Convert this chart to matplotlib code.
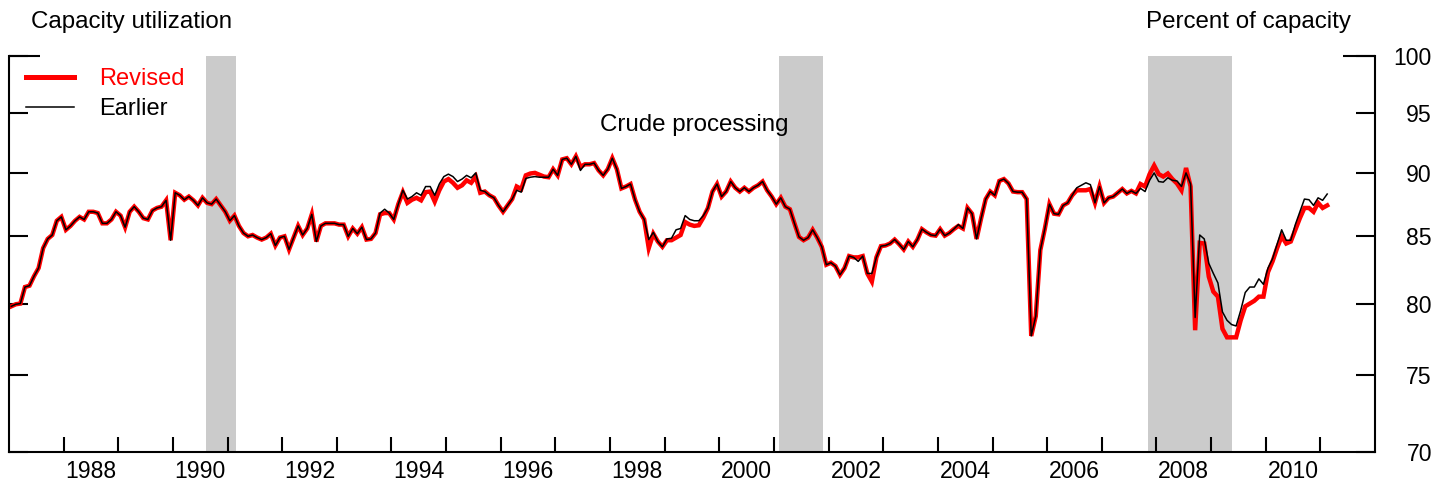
import matplotlib
matplotlib.use("Agg")
import matplotlib.pyplot as plt
import numpy as np

plt.rcParams['font.family'] = ['Liberation Sans', 'DejaVu Sans']

# ---------------- data (monthly, Jan 1987 - Feb 2011) ----------------
start_year = 1987
revised = [
    79.8, 79.95, 80.0, 81.2, 81.3, 82.0, 82.6, 84.1, 84.8, 85.1, 86.2, 86.5,        # 1987
    85.5, 85.8, 86.2, 86.5, 86.3, 86.9, 86.9, 86.8, 86.0, 86.0, 86.3, 86.9,         # 1988
    86.6, 85.7, 86.9, 87.3, 86.9, 86.4, 86.3, 87.0, 87.2, 87.3, 87.8, 84.7,         # 1989
    88.4, 88.2, 87.85, 88.1, 87.8, 87.4, 88.0, 87.6, 87.5, 87.9, 87.4, 86.9,        # 1990
    86.2, 86.6, 85.8, 85.25, 85.0, 85.1, 84.9, 84.75, 84.9, 85.2, 84.3, 84.9,       # 1991
    85.0, 84.0, 84.9, 85.8, 85.1, 85.6, 86.7, 84.6, 85.8, 86.0, 86.0, 86.0,         # 1992
    85.9, 85.9, 85.0, 85.6, 85.2, 85.7, 84.75, 84.8, 85.25, 86.7, 86.8, 86.8,       # 1993
    86.3, 87.5, 88.45, 87.6, 87.85, 88.0, 87.8, 88.45, 88.5, 87.7, 88.6, 89.3,      # 1994
    89.5, 89.2, 88.8, 89.0, 89.4, 89.2, 89.7, 88.4, 88.5, 88.2, 88.0, 87.4,         # 1995
    86.9, 87.4, 87.9, 88.9, 88.7, 89.8, 89.95, 90.0, 89.85, 89.7, 89.65, 90.3,      # 1996
    89.8, 91.1, 91.2, 90.7, 91.35, 90.5, 90.7, 90.7, 90.8, 90.2, 89.8, 90.3,        # 1997
    91.2, 90.3, 88.75, 88.9, 89.1, 87.85, 86.9, 86.3, 84.1, 85.2, 84.6, 84.2,       # 1998
    84.7, 84.7, 84.9, 85.1, 86.1, 85.9, 85.8, 85.85, 86.45, 87.2, 88.5, 89.1,       # 1999
    88.1, 88.5, 89.3, 88.8, 88.5, 88.8, 88.5, 88.8, 89.0, 89.3, 88.6, 88.1,         # 2000
    87.5, 88.0, 87.3, 87.1, 86.0, 84.95, 84.7, 84.9, 85.5, 84.9, 84.2, 82.85,       # 2001
    83.0, 82.75, 82.1, 82.6, 83.5, 83.4, 83.4, 83.5, 82.2, 81.6, 83.4, 84.25,       # 2002
    84.3, 84.45, 84.75, 84.4, 84.0, 84.6, 84.2, 84.75, 85.55, 85.3, 85.1, 85.05,    # 2003
    85.55, 85.05, 85.25, 85.55, 85.8, 85.6, 87.2, 86.75, 84.8, 86.4, 87.9, 88.5,    # 2004
    88.2, 89.35, 89.5, 89.15, 88.5, 88.45, 88.45, 87.9, 77.7, 79.1, 83.95, 85.6,    # 2005
    87.5, 86.75, 86.7, 87.4, 87.6, 88.2, 88.6, 88.6, 88.6, 88.7, 87.6, 88.9,        # 2006
    87.6, 88.0, 88.1, 88.4, 88.7, 88.35, 88.55, 88.35, 89.1, 88.9, 89.9, 90.6,      # 2007
    89.9, 89.7, 89.95, 89.5, 89.15, 88.6, 90.4, 88.9, 78.1, 84.5, 84.45, 81.96,     # 2008
    80.86, 80.5, 78.2, 77.6, 77.6, 77.6, 78.8, 79.8, 80.0, 80.2, 80.5, 80.5,        # 2009
    82.3, 83.1, 84.1, 85.0, 84.45, 84.6, 85.5, 86.4, 87.2, 87.2, 86.9, 87.6,        # 2010
    87.2, 87.4,                                                                     # 2011
]
earlier = [
    79.8, 79.95, 80.0, 81.2, 81.3, 82.0, 82.6, 84.1, 84.8, 85.1, 86.2, 86.5,        # 1987
    85.5, 85.8, 86.2, 86.5, 86.3, 86.9, 86.9, 86.8, 86.0, 86.0, 86.3, 86.9,         # 1988
    86.6, 85.7, 86.9, 87.3, 86.9, 86.4, 86.3, 87.0, 87.2, 87.3, 87.8, 84.7,         # 1989
    88.4, 88.2, 87.85, 88.1, 87.8, 87.4, 88.0, 87.6, 87.5, 87.9, 87.4, 86.9,        # 1990
    86.2, 86.6, 85.8, 85.25, 85.0, 85.1, 84.9, 84.75, 84.9, 85.2, 84.3, 84.9,       # 1991
    85.0, 84.0, 84.9, 85.8, 85.1, 85.6, 86.7, 84.6, 85.8, 86.0, 86.0, 86.0,         # 1992
    85.9, 85.9, 85.0, 85.6, 85.2, 85.7, 84.75, 84.8, 85.25, 86.8, 87.1, 86.8,       # 1993
    86.3, 87.5, 88.6, 87.9, 88.1, 88.4, 88.2, 88.9, 88.9, 88.2, 89.1, 89.7,         # 1994
    89.9, 89.7, 89.3, 89.5, 89.8, 89.6, 90.0, 88.6, 88.5, 88.2, 88.0, 87.4,         # 1995
    86.9, 87.4, 87.9, 88.6, 88.45, 89.55, 89.65, 89.7, 89.65, 89.65, 89.65, 90.3,   # 1996
    89.8, 91.1, 91.2, 90.7, 91.35, 90.2, 90.7, 90.7, 90.8, 90.2, 89.8, 90.3,        # 1997
    91.2, 90.3, 88.75, 88.9, 89.1, 87.85, 86.9, 86.3, 84.75, 85.3, 84.6, 84.2,      # 1998
    84.8, 84.85, 85.5, 85.6, 86.6, 86.3, 86.2, 86.2, 86.6, 87.2, 88.5, 89.1,        # 1999
    88.1, 88.5, 89.3, 88.8, 88.5, 88.8, 88.5, 88.8, 89.0, 89.3, 88.6, 88.1,         # 2000
    87.5, 88.0, 87.3, 87.1, 86.0, 84.95, 84.7, 84.9, 85.5, 84.9, 84.2, 82.85,       # 2001
    83.0, 82.75, 82.1, 82.6, 83.5, 83.4, 83.1, 83.5, 82.2, 82.2, 83.4, 84.25,       # 2002
    84.3, 84.45, 84.75, 84.4, 84.0, 84.6, 84.2, 84.75, 85.55, 85.3, 85.1, 85.05,    # 2003
    85.55, 85.05, 85.25, 85.55, 85.9, 85.6, 87.2, 86.75, 84.8, 86.4, 87.9, 88.5,    # 2004
    88.2, 89.35, 89.5, 89.15, 88.5, 88.45, 88.45, 87.9, 77.7, 79.1, 83.95, 85.6,    # 2005
    87.5, 86.75, 86.7, 87.4, 87.6, 88.2, 88.8, 89.0, 89.2, 89.05, 87.6, 88.9,       # 2006
    87.6, 88.0, 88.1, 88.4, 88.7, 88.35, 88.55, 88.35, 88.75, 88.5, 89.4, 90.0,     # 2007
    89.3, 89.25, 89.6, 89.4, 89.35, 88.9, 90.0, 89.1, 79.0, 85.1, 84.8, 82.95,      # 2008
    82.2, 81.5, 79.4, 78.8, 78.5, 78.4, 79.5, 80.8, 81.2, 81.2, 81.8, 81.4,         # 2009
    82.6, 83.3, 84.4, 85.5, 84.7, 84.7, 85.9, 86.9, 87.9, 87.85, 87.4, 88.0,        # 2010
    87.8, 88.3,                                                                     # 2011
]
rec_start = [1990.60, 2001.10, 2007.84]
rec_end = [1991.15, 2001.905, 2009.39]
y_ticks = [70, 75, 80, 85, 90, 95, 100]
x_tick_years = list(range(1988, 2012))
x_label_years = list(range(1988, 2011, 2))

# ---------------- figure ----------------
W, H = 1450, 484
fig = plt.figure(figsize=(W / 100, H / 100), dpi=100)
L, R, T, B = 9, 1375, 56, 451.7
ax = fig.add_axes([L / W, 1 - B / H, (R - L) / W, (B - T) / H])

t = start_year + (np.arange(len(revised)) + 0.5) / 12.0
t2 = start_year + (np.arange(len(earlier)) + 0.5) / 12.0

for s, e in zip(rec_start, rec_end):
    ax.axvspan(s, e, color='#cbcbcb', lw=0, zorder=0)

ax.plot(t, revised, color='#ff0000', lw=3.2, solid_joinstyle='miter', zorder=2, label='Revised')
ax.plot(t2, earlier, color='black', lw=1.1, zorder=3, label='Earlier')

ax.set_yscale('log')
ax.set_ylim(70, 100)
ax.set_xlim(1987.0, 2012.0)

ax.yaxis.set_major_locator(matplotlib.ticker.FixedLocator(y_ticks))
ax.yaxis.set_major_formatter(matplotlib.ticker.FixedFormatter([str(v) for v in y_ticks]))
ax.yaxis.set_minor_locator(matplotlib.ticker.NullLocator())

ax.xaxis.set_major_locator(matplotlib.ticker.FixedLocator(x_tick_years))
ax.xaxis.set_major_formatter(matplotlib.ticker.NullFormatter())
ax.xaxis.set_minor_locator(matplotlib.ticker.FixedLocator([y + 0.5 for y in x_label_years]))
ax.xaxis.set_minor_formatter(matplotlib.ticker.FixedFormatter([str(y) for y in x_label_years]))

lw_sp = 1.5
for side in ['left', 'right', 'bottom']:
    ax.spines[side].set_linewidth(lw_sp)
ax.spines['top'].set_visible(False)

ax.tick_params(axis='x', which='major', direction='in', length=10.8, width=lw_sp, bottom=True, top=False)
ax.tick_params(axis='x', which='minor', length=0, pad=6, labelsize=16.6)
ax.tick_params(axis='y', which='major', direction='in', length=14, width=lw_sp,
               left=True, right=True, labelleft=False, labelright=True, labelsize=16.6, pad=41)
for lab in ax.get_yticklabels():
    lab.set_horizontalalignment('right')

# longer ticks at the top of both vertical axes
ax.plot([0, 31 / (R - L)], [1, 1], transform=ax.transAxes, color='black', lw=lw_sp,
        clip_on=False, solid_capstyle='butt')
ax.plot([1 - 32 / (R - L), 1], [1, 1], transform=ax.transAxes, color='black', lw=lw_sp,
        clip_on=False, solid_capstyle='butt')

leg = ax.legend(loc='upper left', bbox_to_anchor=(26 / W, 1 - 68 / H), bbox_transform=fig.transFigure,
                frameon=False, fontsize=17, handlelength=2.03, handletextpad=1.06,
                borderpad=0, borderaxespad=0, labelspacing=0.33)
leg.get_texts()[0].set_color('#ff0000')
leg.get_lines()[0].set_linewidth(3.6)

fig.text(31 / W, 1 - 28.3 / H, 'Capacity utilization', fontsize=17.4, ha='left', va='baseline')
fig.text(1351 / W, 1 - 28.3 / H, 'Percent of capacity', fontsize=17.4, ha='right', va='baseline')
fig.text(600 / W, 1 - 131.5 / H, 'Crude processing', fontsize=17.4, ha='left', va='baseline')

fig.savefig('out.png', dpi=100)
